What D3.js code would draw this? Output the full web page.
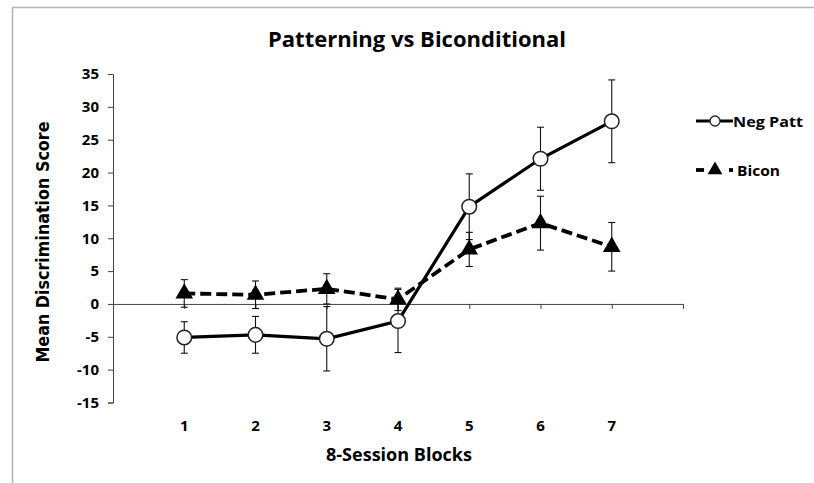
<!DOCTYPE html>
<html>
<head>
<meta charset="utf-8">
<script src="https://cdn.jsdelivr.net/npm/d3@7"></script>
<style>
  body { margin: 0; background: #fff; }
  svg text { font-family: "Open Sans", "Liberation Sans", sans-serif; font-weight: bold; fill: #000; }
</style>
</head>
<body>
<div id="chart"></div>
<script>
var blocks = [1, 2, 3, 4, 5, 6, 7];
var negPatt = [-5.1, -4.7, -5.3, -2.6, 14.8, 22.1, 27.8];
var negPattErr = [2.4, 2.8, 4.9, 4.8, 5.0, 4.8, 6.3];
var bicon = [1.6, 1.4, 2.3, 0.7, 8.3, 12.3, 8.7];
var biconErr = [2.1, 2.1, 2.3, 1.7, 2.6, 4.1, 3.7];
var yTicks = [35, 30, 25, 20, 15, 10, 5, 0, -5, -10, -15];
var seriesNames = ["Neg Patt", "Bicon"];

var width = 814, height = 483;
var svg = d3.select('#chart').append('svg')
    .attr('width', width).attr('height', height);

// light frame of the pasted chart
svg.append('path')
    .attr('d', 'M12.5,483 L12.5,7.5 L814,7.5')
    .attr('fill', 'none').attr('stroke', '#b5b5b5').attr('stroke-width', 1.5);

var x = d3.scaleLinear().domain([0, 8]).range([113, 683]);
var y = d3.scaleLinear().domain([-15, 35]).range([402.5, 74]);

// y axis
var yAxis = svg.append('g')
    .attr('transform', 'translate(' + x(0) + ',0)')
    .call(d3.axisLeft(y).tickValues(yTicks).tickSize(5).tickFormat(function (d) { return String(d); }));
yAxis.select('.domain').attr('stroke', '#444');
yAxis.selectAll('.tick line').attr('stroke', '#444');
yAxis.selectAll('.tick text')
    .attr('x', -14)
    .style('font-size', '15px');

// x axis across the zero line
var xAxis = svg.append('g')
    .attr('transform', 'translate(0,' + y(0) + ')')
    .call(d3.axisBottom(x).tickValues([1, 2, 3, 4, 5, 6, 7, 8]).tickSize(5).tickSizeOuter(0).tickFormat(''));
xAxis.select('.domain').attr('stroke', '#444');
xAxis.selectAll('.tick line').attr('stroke', '#444');

// category labels at the bottom
svg.append('g').selectAll('text')
    .data(blocks)
    .enter()
    .append('text')
    .attr('x', function (d) { return x(d); })
    .attr('y', 431)
    .attr('text-anchor', 'middle')
    .style('font-size', '15px')
    .text(function (d) { return d; });

function errorBars(vals, errs) {
    var g = svg.append('g').attr('stroke', '#111').attr('stroke-width', 1.1);
    blocks.forEach(function (b, i) {
        var cx = x(b), lo = y(vals[i] - errs[i]), hi = y(vals[i] + errs[i]);
        g.append('line').attr('x1', cx).attr('x2', cx).attr('y1', lo).attr('y2', hi);
        g.append('line').attr('x1', cx - 3.5).attr('x2', cx + 3.5).attr('y1', lo).attr('y2', lo);
        g.append('line').attr('x1', cx - 3.5).attr('x2', cx + 3.5).attr('y1', hi).attr('y2', hi);
    });
}
errorBars(negPatt, negPattErr);
errorBars(bicon, biconErr);

var line = d3.line()
    .x(function (d) { return x(d[0]); })
    .y(function (d) { return y(d[1]); });

svg.append('path')
    .datum(d3.zip(blocks, bicon))
    .attr('d', line)
    .attr('fill', 'none').attr('stroke', '#000')
    .attr('stroke-width', 3.8).attr('stroke-dasharray', '11,5');

svg.append('path')
    .datum(d3.zip(blocks, negPatt))
    .attr('d', line)
    .attr('fill', 'none').attr('stroke', '#000').attr('stroke-width', 3.2);

var tri = d3.symbol().type(d3.symbolTriangle).size(135);
svg.append('g').selectAll('path')
    .data(d3.zip(blocks, bicon))
    .enter()
    .append('path')
    .attr('d', tri)
    .attr('transform', function (d) { return 'translate(' + x(d[0]) + ',' + y(d[1]) + ')'; })
    .attr('fill', '#000');

svg.append('g').selectAll('circle')
    .data(d3.zip(blocks, negPatt))
    .enter()
    .append('circle')
    .attr('cx', function (d) { return x(d[0]); })
    .attr('cy', function (d) { return y(d[1]); })
    .attr('r', 7.3)
    .attr('fill', '#fff').attr('stroke', '#222').attr('stroke-width', 1.5);

// legend
var lg = svg.append('g');
lg.append('line').attr('x1', 696).attr('x2', 733).attr('y1', 121).attr('y2', 121)
    .attr('stroke', '#000').attr('stroke-width', 3.2);
lg.append('circle').attr('cx', 715).attr('cy', 121).attr('r', 5)
    .attr('fill', '#fff').attr('stroke', '#222').attr('stroke-width', 1.3);
lg.append('text').attr('x', 733).attr('y', 126.5).style('font-size', '15px')
    .attr('textLength', 70).attr('lengthAdjust', 'spacingAndGlyphs').text(seriesNames[0]);

lg.append('line').attr('x1', 696).attr('x2', 704).attr('y1', 170).attr('y2', 170)
    .attr('stroke', '#000').attr('stroke-width', 3.8);
lg.append('line').attr('x1', 729).attr('x2', 733).attr('y1', 170).attr('y2', 170)
    .attr('stroke', '#000').attr('stroke-width', 3.8);
lg.append('path').attr('d', d3.symbol().type(d3.symbolTriangle).size(95))
    .attr('transform', 'translate(715,170)').attr('fill', '#000');
lg.append('text').attr('x', 737).attr('y', 175.5).style('font-size', '15px')
    .attr('textLength', 43).attr('lengthAdjust', 'spacingAndGlyphs').text(seriesNames[1]);

// titles
svg.append('text')
    .attr('x', 417).attr('y', 47)
    .attr('text-anchor', 'middle')
    .style('font-size', '21px')
    .attr('textLength', 298).attr('lengthAdjust', 'spacingAndGlyphs')
    .text('Patterning vs Biconditional');

svg.append('text')
    .attr('x', 399).attr('y', 461)
    .attr('text-anchor', 'middle')
    .style('font-size', '18px')
    .attr('textLength', 146).attr('lengthAdjust', 'spacingAndGlyphs')
    .text('8-Session Blocks');

svg.append('text')
    .attr('transform', 'translate(49,242) rotate(-90)')
    .attr('text-anchor', 'middle')
    .style('font-family', '"DejaVu Sans", Verdana, sans-serif')
    .style('font-size', '18px')
    .attr('textLength', 241).attr('lengthAdjust', 'spacingAndGlyphs')
    .text('Mean Discrimination Score');
</script>
</body>
</html>
